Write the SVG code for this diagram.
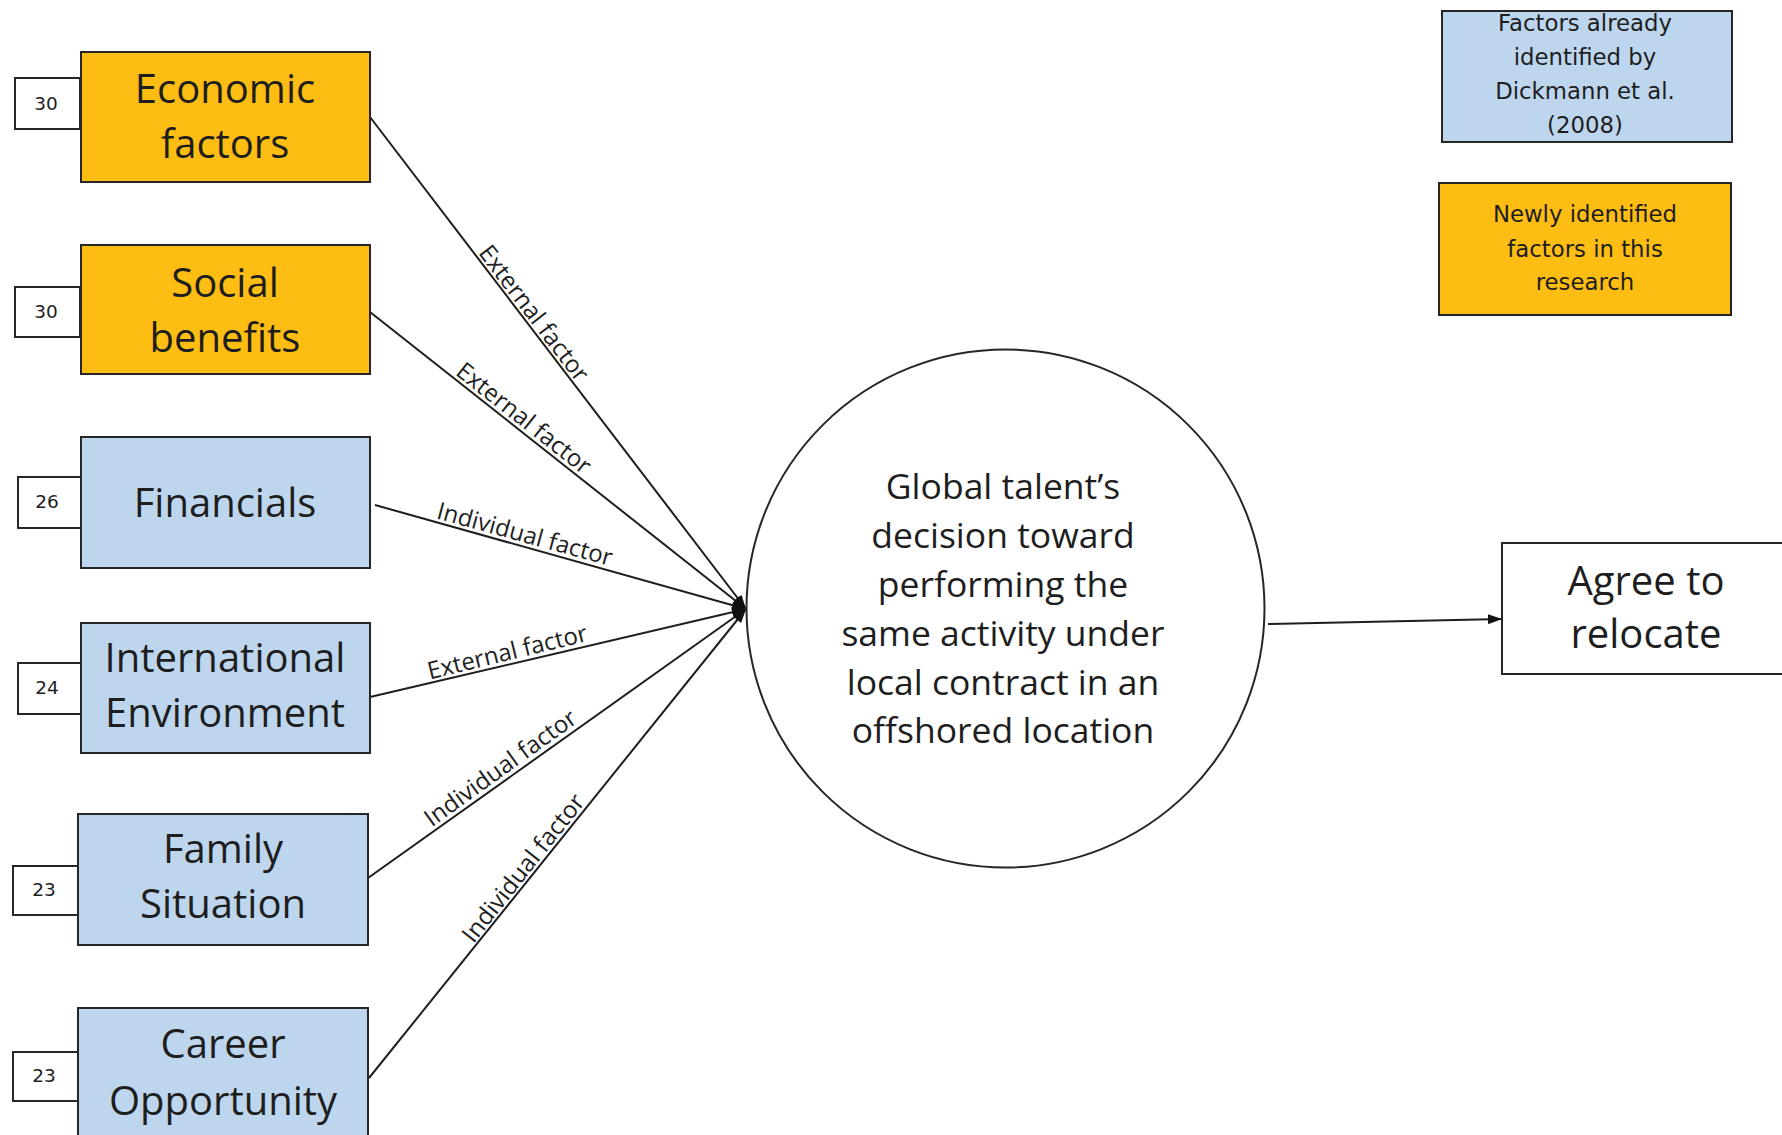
<svg xmlns="http://www.w3.org/2000/svg" width="1782" height="1135" viewBox="0 0 1782 1135">
<style>
.box{stroke:#262626;stroke-width:2}
.org{fill:#FDBD13}
.blu{fill:#BDD6EE}
.num{fill:#fff;stroke:#262626;stroke-width:2}
.t{font-family:"Open Sans","Liberation Sans",sans-serif;fill:#1e1e1e;text-anchor:middle}
.big{font-size:40px}
.ctr{font-size:35.5px}
.lbl{font-size:24px}
.n{font-family:"DejaVu Sans","Liberation Sans",sans-serif;font-size:18.5px;fill:#1e1e1e;text-anchor:middle}
.leg{font-family:"DejaVu Sans","Liberation Sans",sans-serif;font-size:22.8px;fill:#1e1e1e;text-anchor:middle}
.ln{stroke:#1e1e1e;stroke-width:2;fill:none}
</style>
<defs>
<marker id="ah" markerUnits="userSpaceOnUse" markerWidth="16" markerHeight="14" refX="14" refY="7" orient="auto">
<path d="M0,2 L14,7 L0,12 Z" fill="#111"/>
</marker>
</defs>
<rect width="1782" height="1135" fill="#fff"/>

<g id="connectors">
<line class="ln" x1="370" y1="117" x2="746" y2="609" marker-end="url(#ah)"/>
<line class="ln" x1="370" y1="312" x2="746" y2="609" marker-end="url(#ah)"/>
<line class="ln" x1="375" y1="505" x2="746" y2="609" marker-end="url(#ah)"/>
<line class="ln" x1="370" y1="697" x2="746" y2="609" marker-end="url(#ah)"/>
<line class="ln" x1="368" y1="878" x2="746" y2="609" marker-end="url(#ah)"/>
<line class="ln" x1="369" y1="1078" x2="746" y2="609" marker-end="url(#ah)"/>
<line class="ln" x1="1268" y1="624" x2="1502" y2="619" marker-end="url(#ah)"/>
<text class="t lbl" transform="translate(525,320) rotate(52.6)" y="-3">External factor</text>
<text class="t lbl" transform="translate(517,427) rotate(38.2)" y="-3">External factor</text>
<text class="t lbl" transform="translate(522,545) rotate(15.3)" y="-3">Individual factor</text>
<text class="t lbl" transform="translate(510,663) rotate(-13.7)" y="-3">External factor</text>
<text class="t lbl" transform="translate(507,777) rotate(-35.8)" y="-3">Individual factor</text>
<text class="t lbl" transform="translate(532,875) rotate(-51.7)" y="-3">Individual factor</text>
</g>

<g id="economic">
<rect class="box org" x="81" y="52" width="289" height="130"/>
<text class="t big" x="225" y="103">Economic</text>
<text class="t big" x="225" y="158">factors</text>
<rect class="num" x="15" y="78" width="65" height="51"/>
<text class="n" x="46" y="110">30</text>
</g>

<g id="social">
<rect class="box org" x="81" y="245" width="289" height="129"/>
<text class="t big" x="225" y="297">Social</text>
<text class="t big" x="225" y="352">benefits</text>
<rect class="num" x="15" y="287" width="65" height="50"/>
<text class="n" x="46" y="318">30</text>
</g>

<g id="financials">
<rect class="box blu" x="81" y="437" width="289" height="131"/>
<text class="t big" x="225" y="517">Financials</text>
<rect class="num" x="18" y="477" width="63" height="51"/>
<text class="n" x="47" y="508">26</text>
</g>

<g id="international">
<rect class="box blu" x="81" y="623" width="289" height="130"/>
<text class="t big" x="225" y="672">International</text>
<text class="t big" x="225" y="727">Environment</text>
<rect class="num" x="18" y="663" width="63" height="51"/>
<text class="n" x="47" y="694">24</text>
</g>

<g id="family">
<rect class="box blu" x="78" y="814" width="290" height="131"/>
<text class="t big" x="223" y="863">Family</text>
<text class="t big" x="223" y="918">Situation</text>
<rect class="num" x="13" y="866" width="65" height="49"/>
<text class="n" x="44" y="896">23</text>
</g>

<g id="career">
<rect class="box blu" x="78" y="1008" width="290" height="140"/>
<text class="t big" x="223" y="1058">Career</text>
<text class="t big" x="223" y="1115">Opportunity</text>
<rect class="num" x="13" y="1052" width="65" height="49"/>
<text class="n" x="44" y="1082">23</text>
</g>

<g id="decision">
<circle cx="1005.5" cy="608.5" r="259" fill="#fff" stroke="#262626" stroke-width="2"/>
<text class="t ctr" x="1003" y="499">Global talent’s</text>
<text class="t ctr" x="1003" y="548">decision toward</text>
<text class="t ctr" x="1003" y="597">performing the</text>
<text class="t ctr" x="1003" y="646">same activity under</text>
<text class="t ctr" x="1003" y="695">local contract in an</text>
<text class="t ctr" x="1003" y="743">offshored location</text>
</g>

<g id="relocate">
<rect class="box" fill="#fff" x="1502" y="543" width="300" height="131"/>
<text class="t big" x="1646" y="595">Agree to</text>
<text class="t big" x="1646" y="648">relocate</text>
</g>

<g id="legend-existing">
<rect class="box blu" x="1442" y="11" width="290" height="131"/>
<text class="leg" x="1585" y="31">Factors already</text>
<text class="leg" x="1585" y="65">identified by</text>
<text class="leg" x="1585" y="99">Dickmann et al.</text>
<text class="leg" x="1585" y="133">(2008)</text>
</g>

<g id="legend-new">
<rect class="box org" x="1439" y="183" width="292" height="132"/>
<text class="leg" x="1585" y="222">Newly identified</text>
<text class="leg" x="1585" y="257">factors in this</text>
<text class="leg" x="1585" y="290">research</text>
</g>
</svg>
